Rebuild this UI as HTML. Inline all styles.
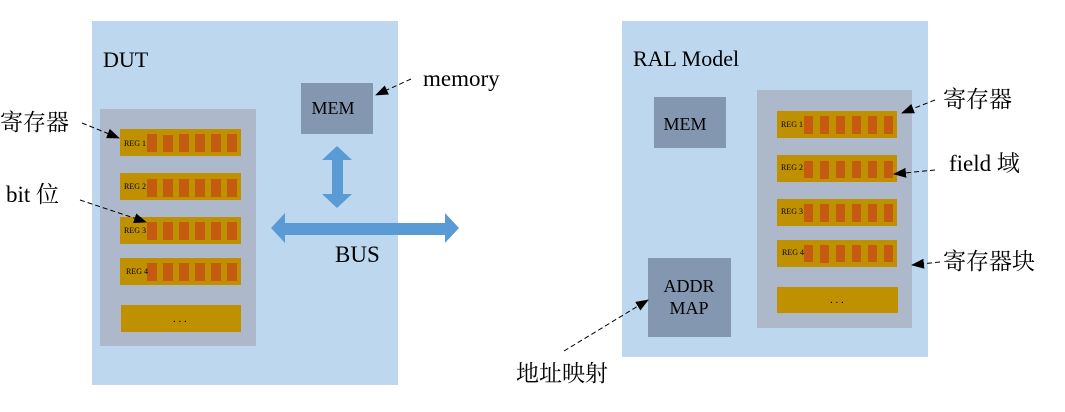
<!DOCTYPE html>
<html><head><meta charset="utf-8"><style>
html,body{margin:0;padding:0;background:#fff;}
svg{display:block;}
text{font-family:"Liberation Serif","Noto Serif CJK SC",serif;fill:#000;}
.cjk{font-family:"Liberation Serif","Noto Serif CJK SC",serif;}
</style></head><body>
<svg width="1065" height="412" viewBox="0 0 1065 412" xmlns="http://www.w3.org/2000/svg">
<defs>
<marker id="ah" markerWidth="13" markerHeight="10" refX="12" refY="5" orient="auto" markerUnits="userSpaceOnUse">
<path d="M0,0 L13,5 L0,10 z" fill="#000"/></marker>
</defs>
<rect x="92" y="21" width="306" height="364" fill="#bdd7ee"/>
<text x="103" y="67" font-size="22">DUT</text>
<rect x="100" y="109" width="156" height="237" fill="#adb9ca"/>
<g fill="#bf9000">
<rect x="120" y="129" width="121" height="27"/>
<rect x="120" y="173" width="121" height="27"/>
<rect x="120" y="217" width="121" height="27"/>
<rect x="120" y="258" width="121" height="27"/>
<rect x="121" y="305" width="120" height="27"/>
</g>
<g fill="#c55a11">
<rect x="147" y="134" width="10" height="18"/><rect x="163" y="135" width="10" height="17"/><rect x="179" y="134" width="10" height="18"/><rect x="195" y="134" width="10" height="18"/><rect x="211" y="134" width="10" height="18"/><rect x="227" y="134" width="10" height="18"/>
<rect x="147" y="179" width="10" height="18"/><rect x="163" y="179" width="10" height="18"/><rect x="179" y="179" width="10" height="18"/><rect x="195" y="179" width="10" height="18"/><rect x="211" y="179" width="10" height="18"/><rect x="227" y="179" width="10" height="18"/>
<rect x="147" y="222" width="10" height="18"/><rect x="163" y="222" width="10" height="18"/><rect x="179" y="222" width="10" height="18"/><rect x="195" y="222" width="10" height="18"/><rect x="211" y="222" width="10" height="18"/><rect x="227" y="222" width="10" height="18"/>
<rect x="147" y="263" width="10" height="18"/><rect x="163" y="263" width="10" height="18"/><rect x="179" y="263" width="10" height="18"/><rect x="195" y="263" width="10" height="18"/><rect x="211" y="263" width="10" height="18"/><rect x="227" y="263" width="10" height="18"/>
</g>
<g font-size="8">
<text x="124" y="146">REG 1</text><text x="124" y="189">REG 2</text><text x="124" y="233">REG 3</text><text x="126" y="274">REG 4</text>
</g>
<text x="173" y="322" font-size="11">. . .</text>
<rect x="301" y="83" width="72" height="51" fill="#8497b0"/>
<text x="333" y="114" font-size="18" text-anchor="middle">MEM</text>
<polygon points="337,146 352,160 343,160 343,194 352,194 337,208 322,194 332,194 332,160 322,160" fill="#5b9bd5"/>
<polygon points="271,228 285,213 285,223 445,223 445,213 459,228 445,243 445,235 285,235 285,243" fill="#5b9bd5"/>
<text x="335" y="262" font-size="23">BUS</text>
<text x="0" y="130" font-size="23" class="cjk">寄存器</text>
<text x="6" y="202" font-size="23" class="cjk">bit 位</text>
<line x1="82" y1="123" x2="119" y2="138" stroke="#000" stroke-dasharray="5,3" marker-end="url(#ah)"/>
<line x1="80" y1="200" x2="146" y2="222" stroke="#000" stroke-dasharray="5,3" marker-end="url(#ah)"/>
<text x="423" y="86" font-size="23">memory</text>
<line x1="411" y1="79" x2="376" y2="95" stroke="#000" stroke-dasharray="5,3" marker-end="url(#ah)"/>
<rect x="622" y="21" width="306" height="336" fill="#bdd7ee"/>
<text x="633" y="66" font-size="22">RAL Model</text>
<rect x="654" y="97" width="72" height="51" fill="#8497b0"/>
<text x="685" y="130" font-size="18" text-anchor="middle">MEM</text>
<rect x="757" y="90" width="155" height="238" fill="#adb9ca"/>
<g fill="#bf9000">
<rect x="777" y="111" width="120" height="27"/><rect x="777" y="155" width="120" height="27"/><rect x="777" y="199" width="120" height="27"/><rect x="777" y="240" width="120" height="27"/><rect x="777" y="287" width="121" height="26"/>
</g>
<g fill="#c55a11">
<rect x="804" y="116" width="9" height="18"/><rect x="820" y="116" width="9" height="18"/><rect x="836" y="116" width="9" height="18"/><rect x="852" y="116" width="9" height="18"/><rect x="868" y="116" width="9" height="18"/><rect x="884" y="116" width="9" height="18"/>
<rect x="804" y="161" width="9" height="17"/><rect x="820" y="161" width="9" height="18"/><rect x="836" y="161" width="9" height="17"/><rect x="852" y="161" width="9" height="17"/><rect x="868" y="161" width="9" height="17"/><rect x="884" y="161" width="9" height="17"/>
<rect x="804" y="204" width="9" height="18"/><rect x="820" y="204" width="9" height="18"/><rect x="836" y="204" width="9" height="18"/><rect x="852" y="204" width="9" height="18"/><rect x="868" y="204" width="9" height="18"/><rect x="884" y="204" width="9" height="18"/>
<rect x="804" y="245" width="9" height="17"/><rect x="820" y="245" width="9" height="18"/><rect x="836" y="245" width="9" height="17"/><rect x="852" y="245" width="9" height="17"/><rect x="868" y="245" width="9" height="17"/><rect x="884" y="245" width="9" height="17"/>
</g>
<g font-size="8">
<text x="781" y="127">REG 1</text><text x="781" y="170">REG 2</text><text x="781" y="214">REG 3</text><text x="782" y="255">REG 4</text>
</g>
<text x="830" y="303" font-size="11">. . .</text>
<rect x="648" y="258" width="83" height="79" fill="#8497b0"/>
<text x="689" y="292" font-size="18" text-anchor="middle">ADDR</text>
<text x="689" y="314" font-size="18" text-anchor="middle">MAP</text>
<text x="943" y="107" font-size="23" class="cjk">寄存器</text>
<text x="949" y="171" font-size="23" class="cjk">field 域</text>
<text x="943" y="269" font-size="23" class="cjk">寄存器块</text>
<text x="516" y="381" font-size="23" class="cjk">地址映射</text>
<line x1="935" y1="100" x2="902" y2="113" stroke="#000" stroke-dasharray="5,3" marker-end="url(#ah)"/>
<line x1="935" y1="170" x2="894" y2="174" stroke="#000" stroke-dasharray="5,3" marker-end="url(#ah)"/>
<line x1="940" y1="262" x2="912" y2="265" stroke="#000" stroke-dasharray="5,3" marker-end="url(#ah)"/>
<line x1="564" y1="351" x2="648" y2="300" stroke="#000" stroke-dasharray="5,3" marker-end="url(#ah)"/>
</svg>
</body></html>
